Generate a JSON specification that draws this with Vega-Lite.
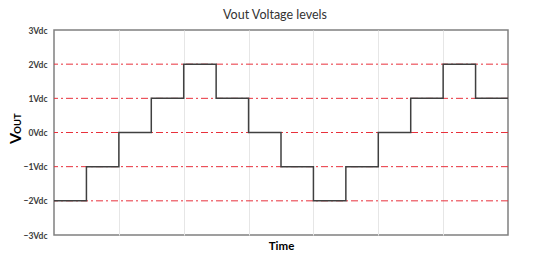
{
  "$schema": "https://vega.github.io/schema/vega-lite/v6.json",
  "width": 454,
  "height": 205,
  "autosize": {"type": "none"},
  "padding": {"left": 54, "top": 30, "right": 42, "bottom": 33},
  "background": "white",
  "config": {
    "font": "Lato",
    "view": {"stroke": "#808080", "strokeWidth": 1.5}
  },
  "title": {
    "text": "Vout Voltage levels",
    "fontSize": 12.5,
    "fontWeight": "normal",
    "color": "#333333",
    "offset": 5,
    "dx": -6
  },
  "datasets": {
    "steps": [
      {"t": 0, "v": -2}, {"t": 1, "v": -1}, {"t": 2, "v": 0}, {"t": 3, "v": 1},
      {"t": 4, "v": 2}, {"t": 5, "v": 1}, {"t": 6, "v": 0}, {"t": 7, "v": -1},
      {"t": 8, "v": -2}, {"t": 9, "v": -1}, {"t": 10, "v": 0}, {"t": 11, "v": 1},
      {"t": 12, "v": 2}, {"t": 13, "v": 1}, {"t": 14, "v": 1}
    ],
    "levels": [{"v": -2}, {"v": -1}, {"v": 0}, {"v": 1}, {"v": 2}]
  },
  "layer": [
    {
      "data": {"name": "steps"},
      "mark": {"type": "line", "interpolate": "step-after", "color": "#404040", "strokeWidth": 1.5, "opacity": 0},
      "encoding": {
        "x": {
          "field": "t", "type": "quantitative",
          "scale": {"domain": [0, 14], "nice": false, "zero": false},
          "axis": {
            "values": [2, 4, 6, 8, 10, 12],
            "grid": true, "gridColor": "#e6e6e6", "gridWidth": 1,
            "labels": false, "ticks": false, "domain": false,
            "title": "Time", "titleFontSize": 11.5, "titleFontWeight": "bold",
            "titleColor": "#000000", "titlePadding": 5
          }
        },
        "y": {
          "field": "v", "type": "quantitative",
          "scale": {"domain": [-3, 3], "nice": false},
          "axis": {
            "values": [-3, -2, -1, 0, 1, 2, 3],
            "grid": false, "ticks": false, "domain": false,
            "labelExpr": "datum.label + 'Vdc'",
            "labelFontSize": 8.5, "labelFontWeight": "bold", "labelColor": "#404040",
            "labelPadding": 7,
            "title": "V", "titleFontSize": 16, "titleFontWeight": "bold", "titleColor": "#000000",
            "titleAngle": 270, "titleAlign": "center", "titleBaseline": "middle",
            "titleX": -39, "titleY": 108
          }
        }
      }
    },
    {
      "data": {"name": "levels"},
      "mark": {"type": "rule", "color": "#e8313c", "strokeDash": [7, 3, 2, 3], "strokeWidth": 1},
      "encoding": {
        "y": {
          "field": "v", "type": "quantitative",
          "scale": {"domain": [-3, 3], "nice": false},
          "axis": {
            "orient": "right",
            "labels": false, "ticks": false, "domain": false, "grid": false,
            "title": "OUT", "titleFontSize": 9.5, "titleFontWeight": "bold", "titleColor": "#000000",
            "titleAngle": 270, "titleAlign": "center", "titleBaseline": "middle",
            "titleX": -491, "titleY": 93
          }
        }
      }
    },
    {
      "data": {"name": "steps"},
      "mark": {"type": "line", "interpolate": "step-after", "color": "#404040", "strokeWidth": 1.5},
      "encoding": {
        "x": {"field": "t", "type": "quantitative", "scale": {"domain": [0, 14], "nice": false, "zero": false}},
        "y": {"field": "v", "type": "quantitative", "scale": {"domain": [-3, 3], "nice": false}, "axis": null}
      }
    }
  ],
  "resolve": {"axis": {"y": "independent"}}
}
